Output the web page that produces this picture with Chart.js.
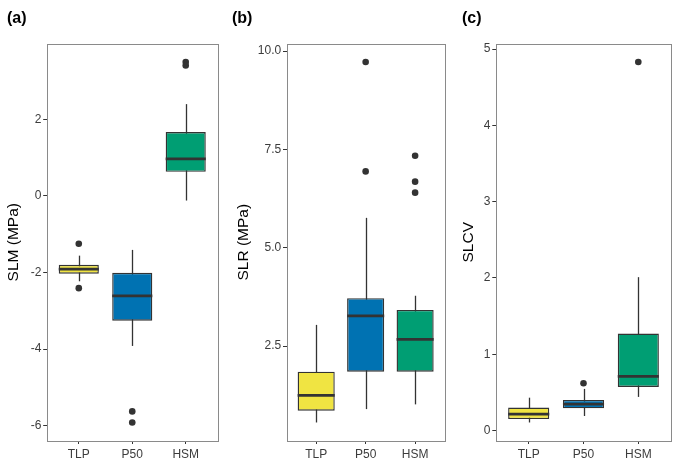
<!DOCTYPE html>
<html><head><meta charset="utf-8">
<script src="https://cdn.jsdelivr.net/npm/chart.js@4.4.0/dist/chart.umd.min.js"></script>
<style>
html,body{margin:0;padding:0;background:#fff;width:680px;height:471px;overflow:hidden;}
.panel{position:absolute;top:0;height:471px;}
.tag{position:absolute;top:10px;font:bold 16px/16px 'Liberation Sans',Arial,Helvetica,sans-serif;color:#000;}
</style></head><body>
<div class="panel" style="left:0px;width:226px"><canvas id="ca"></canvas></div>
<div class="panel" style="left:226px;width:227px"><canvas id="cb"></canvas></div>
<div class="panel" style="left:453px;width:227px"><canvas id="cc"></canvas></div>
<div class="tag" style="left:7px">(a)</div>
<div class="tag" style="left:232px">(b)</div>
<div class="tag" style="left:462px">(c)</div>
<script>
const categories = ['TLP', 'P50', 'HSM'];
const boxColors = ['#F0E442', '#0072B2', '#009E73'];

// (a) SLM (MPa)
const slmLow = [-2.23, -3.92, -0.12];
const slmQ1 = [-2.03, -3.26, 0.63];
const slmMedian = [-1.91, -2.61, 0.97];
const slmQ3 = [-1.80, -2.01, 1.67];
const slmHigh = [-1.56, -1.41, 2.40];
const slmOutliers = [[-1.25, -2.41], [-5.63, -5.92], [3.50, 3.41]];
const slmTicks = [-6, -4, -2, 0, 2];
const slmTickLabels = ['-6', '-4', '-2', '0', '2'];

// (b) SLR (MPa)
const slrLow = [0.56, 0.90, 1.02];
const slrQ1 = [0.86, 1.85, 1.85];
const slrMedian = [1.25, 3.27, 2.67];
const slrQ3 = [1.85, 3.72, 3.42];
const slrHigh = [3.04, 5.76, 3.78];
const slrOutliers = [[], [9.72, 6.94], [7.34, 6.68, 6.40]];
const slrTicks = [2.5, 5.0, 7.5, 10.0];
const slrTickLabels = ['2.5', '5.0', '7.5', '10.0'];

// (c) SLCV
const slcvLow = [0.105, 0.19, 0.44];
const slcvQ1 = [0.15, 0.29, 0.57];
const slcvMedian = [0.215, 0.345, 0.71];
const slcvQ3 = [0.30, 0.40, 1.27];
const slcvHigh = [0.43, 0.545, 2.01];
const slcvOutliers = [[], [0.62], [4.83]];
const slcvTicks = [0, 1, 2, 3, 4, 5];
const slcvTickLabels = ['0', '1', '2', '3', '4', '5'];

const FONT = "'Liberation Sans', Arial, Helvetica, sans-serif";
const INK = '#333333';
const TICKTEXT = '#3c3c3c';

const boxPartsPlugin = {
  id: 'boxParts',
  beforeDatasetsDraw(chart, args, opts) {
    const {ctx} = chart; const x = chart.scales.x, y = chart.scales.y;
    const low = opts.low || [], high = opts.high || [];
    ctx.save(); ctx.strokeStyle = INK; ctx.lineWidth = 1.3;
    low.forEach((v, i) => {
      const px = Math.round(x.getPixelForValue(i + 1)) + 0.5;
      ctx.beginPath(); ctx.moveTo(px, y.getPixelForValue(v)); ctx.lineTo(px, y.getPixelForValue(high[i])); ctx.stroke();
    });
    ctx.restore();
  },
  afterDatasetsDraw(chart, args, opts) {
    const {ctx, chartArea} = chart; const y = chart.scales.y;
    const med = opts.med || [];
    const meta = chart.getDatasetMeta(0);
    ctx.save(); ctx.strokeStyle = INK; ctx.lineWidth = 2.7;
    meta.data.forEach((bar, i) => {
      const half = bar.width / 2; const py = y.getPixelForValue(med[i]);
      ctx.beginPath(); ctx.moveTo(bar.x - half, py); ctx.lineTo(bar.x + half, py); ctx.stroke();
    });
    ctx.strokeStyle = '#8a8a8a'; ctx.lineWidth = 1;
    ctx.strokeRect(Math.round(chartArea.left) + 0.5, Math.round(chartArea.top) + 0.5,
      Math.round(chartArea.right - chartArea.left), Math.round(chartArea.bottom - chartArea.top));
    ctx.restore();
  }
};

function makePanel(id, title, low, q1, med, q3, high, outliers, ticks, tickLabels, yWidth, rightPad, titlePad) {
  const all = low.concat(high, ...outliers);
  const lo = Math.min(...all), hi = Math.max(...all), pad = (hi - lo) * 0.05;
  const boxes = categories.map((c, i) => ({x: i + 1, y: [q1[i], q3[i]]}));
  const pts = [];
  outliers.forEach((arr, i) => arr.forEach(v => pts.push({x: i + 1, y: v})));
  return new Chart(document.getElementById(id), {
    type: 'bar',
    data: {
      datasets: [
        {type: 'bar', data: boxes, backgroundColor: boxColors, borderColor: INK, borderWidth: 1.4,
         borderSkipped: false, barPercentage: 0.75, categoryPercentage: 1, grouped: false},
        {type: 'scatter', data: pts, pointRadius: 3.3, backgroundColor: INK, borderWidth: 0, showLine: false}
      ]
    },
    options: {
      responsive: true, maintainAspectRatio: false, animation: false, events: [],
      layout: {padding: {top: 44, right: rightPad, left: 0, bottom: 0}},
      plugins: {legend: {display: false}, tooltip: {enabled: false},
                boxParts: {low: low, high: high, med: med}},
      scales: {
        x: {
          type: 'linear', min: 0.4, max: 3.6, offset: false,
          grid: {display: true, drawOnChartArea: false, drawTicks: true, tickLength: 3.5, tickColor: INK, tickWidth: 1, offset: false},
          border: {display: false},
          afterBuildTicks: s => { s.ticks = categories.map((c, i) => ({value: i + 1})); },
          afterFit: s => { s.height = 30.5; },
          ticks: {autoSkip: false, maxRotation: 0, padding: 3.5, color: TICKTEXT,
                  font: {family: FONT, size: 12}, callback: v => categories[v - 1]}
        },
        y: {
          type: 'linear', min: lo - pad, max: hi + pad,
          grid: {display: true, drawOnChartArea: false, drawTicks: true, tickLength: 3.5, tickColor: INK, tickWidth: 1},
          border: {display: false},
          afterBuildTicks: s => { s.ticks = ticks.map(v => ({value: v})); },
          afterFit: s => { s.width = yWidth; },
          ticks: {autoSkip: false, padding: 1.8, color: TICKTEXT, font: {family: FONT, size: 12},
                  callback: v => tickLabels[ticks.indexOf(v)]},
          title: {display: true, text: title, color: '#000', font: {family: FONT, size: 15.5, lineHeight: 1.2},
                  padding: {top: titlePad, bottom: 0}}
        }
      }
    },
    plugins: [boxPartsPlugin]
  });
}

makePanel('ca', 'SLM (MPa)', slmLow, slmQ1, slmMedian, slmQ3, slmHigh, slmOutliers, slmTicks, slmTickLabels, 46.7, 8.2, 4.7);
makePanel('cb', 'SLR (MPa)', slrLow, slrQ1, slrMedian, slrQ3, slrHigh, slrOutliers, slrTicks, slrTickLabels, 60.5, 8.2, 8.0);
makePanel('cc', 'SLCV', slcvLow, slcvQ1, slcvMedian, slcvQ3, slcvHigh, slcvOutliers, slcvTicks, slcvTickLabels, 42.8, 8.8, 6.5);
</script>
</body></html>
